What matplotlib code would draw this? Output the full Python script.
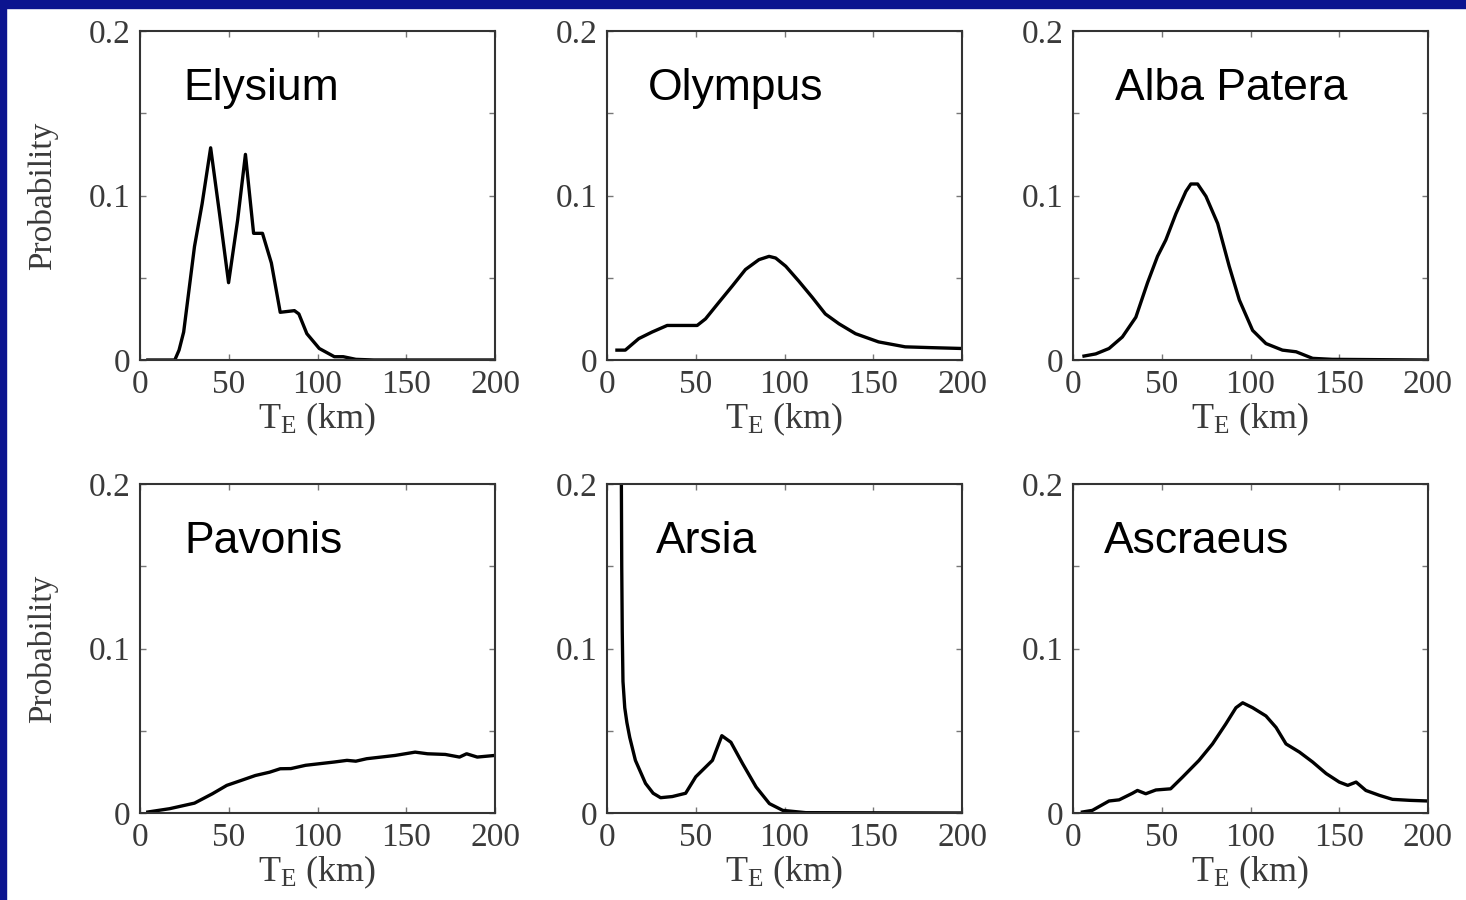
import matplotlib
matplotlib.use("Agg")
import matplotlib.pyplot as plt
from matplotlib.patches import Rectangle

# panel names
names = ["Elysium", "Olympus", "Alba Patera", "Pavonis", "Arsia", "Ascraeus"]

# T_E (km) and probability for each panel
elysium_x = [4.4, 19.6, 22.0, 24.6, 30.7, 35.0, 39.8, 44.8, 49.9, 55.0, 59.4, 64.0, 69.0, 74.0,
             79.0, 87.0, 89.5, 94.0, 101.0, 109.5, 114.5, 121.6, 131.7, 200.0]
elysium_y = [0.0, 0.0, 0.006, 0.017, 0.069, 0.095, 0.129, 0.089, 0.047, 0.085, 0.125, 0.077,
             0.077, 0.059, 0.029, 0.030, 0.028, 0.016, 0.007, 0.002, 0.002, 0.0004, 0.0, 0.0]

olympus_x = [5.6, 10.3, 17.9, 25.4, 33.9, 40.5, 50.8, 55.5, 63.0, 70.6, 78.0, 85.6, 91.3, 95.0,
             100.7, 108.0, 115.7, 123.0, 130.7, 140.0, 153.0, 168.0, 183.0, 200.0]
olympus_y = [0.006, 0.006, 0.013, 0.017, 0.021, 0.021, 0.021, 0.025, 0.035, 0.045, 0.055, 0.061,
             0.063, 0.062, 0.057, 0.048, 0.038, 0.028, 0.022, 0.016, 0.011, 0.008, 0.0075, 0.007]

alba_x = [6.2, 12.8, 20.3, 27.8, 35.4, 42.0, 47.6, 52.3, 58.0, 63.6, 66.4, 70.2, 74.9, 81.5,
          88.0, 93.7, 101.2, 108.7, 118.0, 125.7, 135.0, 146.0, 200.0]
alba_y = [0.0024, 0.0037, 0.007, 0.014, 0.026, 0.047, 0.063, 0.073, 0.089, 0.1025, 0.107, 0.107,
          0.0995, 0.083, 0.057, 0.0365, 0.018, 0.010, 0.006, 0.005, 0.001, 0.0004, 0.0]

pavonis_x = [4.4, 16.6, 30.7, 40.8, 48.9, 57.0, 65.0, 73.0, 79.0, 85.0, 93.3, 101.4, 109.5,
             116.6, 121.6, 127.7, 135.8, 143.8, 155.0, 162.0, 172.0, 180.0, 184.0, 190.0, 200.0]
pavonis_y = [0.0006, 0.0026, 0.006, 0.0117, 0.0168, 0.0198, 0.0228, 0.0248, 0.0269, 0.027,
             0.029, 0.030, 0.031, 0.032, 0.0315, 0.033, 0.034, 0.035, 0.037, 0.036, 0.0356,
             0.034, 0.036, 0.034, 0.035]

arsia_x = [7.9, 8.1, 8.3, 8.6, 9.0, 10.0, 11.2, 12.8, 16.0, 21.7, 26.0, 30.2, 36.8, 44.3, 50.0,
           59.4, 64.7, 69.8, 76.4, 84.0, 91.5, 99.0, 112.0, 200.0]
arsia_y = [0.25, 0.2, 0.15, 0.11, 0.08, 0.064, 0.055, 0.046, 0.032, 0.018, 0.012, 0.0093,
           0.010, 0.012, 0.022, 0.032, 0.047, 0.043, 0.030, 0.0158, 0.0057, 0.0016, 0.0002, 0.0]

ascraeus_x = [5.3, 10.9, 20.3, 26.0, 33.5, 36.3, 41.0, 46.7, 55.0, 61.7, 71.0, 78.6, 86.0, 91.8,
              95.6, 101.2, 108.7, 114.4, 120.0, 127.6, 135.0, 142.6, 150.0, 154.8, 159.5, 165.0,
              172.7, 180.0, 189.6, 200.0]
ascraeus_y = [0.0006, 0.0016, 0.0073, 0.008, 0.012, 0.0137, 0.0117, 0.014, 0.0147, 0.0218,
              0.032, 0.042, 0.054, 0.064, 0.067, 0.064, 0.059, 0.052, 0.042, 0.037, 0.031,
              0.024, 0.0188, 0.0168, 0.0188, 0.0137, 0.0107, 0.0083, 0.0077, 0.0073]

xs = [elysium_x, olympus_x, alba_x, pavonis_x, arsia_x, ascraeus_x]
ys = [elysium_y, olympus_y, alba_y, pavonis_y, arsia_y, ascraeus_y]

x_ticks = [0, 50, 100, 150, 200]
y_ticks = [0, 0.1, 0.2]
y_tick_labels = ["0", "0.1", "0.2"]
y_minor = [0.05, 0.15]

# where the title starts inside each box (axes fraction)
title_x = [0.121, 0.115, 0.118, 0.124, 0.138, 0.087]

plt.rcParams["mathtext.fontset"] = "custom"
plt.rcParams["mathtext.rm"] = "Liberation Serif"
plt.rcParams["mathtext.it"] = "Liberation Serif"

W, H = 1466, 900
fig = plt.figure(figsize=(W / 100, H / 100), dpi=100)
fig.patch.set_facecolor("white")

# dark blue slide border (top and left)
blue = "#0c148f"
fig.patches.append(Rectangle((0, 1 - 8 / H), 1, 8 / H, transform=fig.transFigure,
                             color=blue, zorder=0))
fig.patches.append(Rectangle((0, 0), 6 / W, 1, transform=fig.transFigure,
                             color=blue, zorder=0))

lefts = [140, 607, 1073]
tops = [31, 484]
aw, ah = 355, 329
tick_col = "#3a3a3a"

for i in range(6):
    r, c = divmod(i, 3)
    ax = fig.add_axes([lefts[c] / W, (H - tops[r] - ah) / H, aw / W, ah / H])
    ax.plot(xs[i], ys[i], color="black", lw=2.4, solid_joinstyle="round")
    ax.set_xlim(0, 200)
    ax.set_ylim(0, 0.2)
    ax.set_xticks(x_ticks)
    ax.set_yticks(y_ticks)
    ax.set_yticklabels(y_tick_labels)
    ax.set_yticks(y_minor, minor=True)
    ax.tick_params(which="both", direction="in", top=True, right=True, length=4,
                   width=1, color="#777777")
    ax.tick_params(axis="x", pad=7)
    ax.tick_params(axis="y", pad=7)
    for lab in ax.get_xticklabels() + ax.get_yticklabels():
        lab.set_fontfamily("Liberation Serif")
        lab.set_fontsize(24)
        lab.set_color(tick_col)
    for sp in ax.spines.values():
        sp.set_linewidth(1.5)
        sp.set_color("#333333")
    ax.set_xlabel(r"$\mathrm{T_E}$ (km)", fontfamily="Liberation Serif", fontsize=26,
                  color=tick_col, labelpad=0)
    ax.text(title_x[i], 0.79, names[i], transform=ax.transAxes, ha="left", va="baseline",
            fontfamily="Liberation Sans", fontsize=32, color="black")
    if c == 0:
        fig.text(43 / W, 1 - (tops[r] + ah / 2) / H, "Probability", rotation=90,
                 ha="center", va="center", fontfamily="Liberation Serif", fontsize=24,
                 color=tick_col)

fig.savefig("out.png", dpi=100)
